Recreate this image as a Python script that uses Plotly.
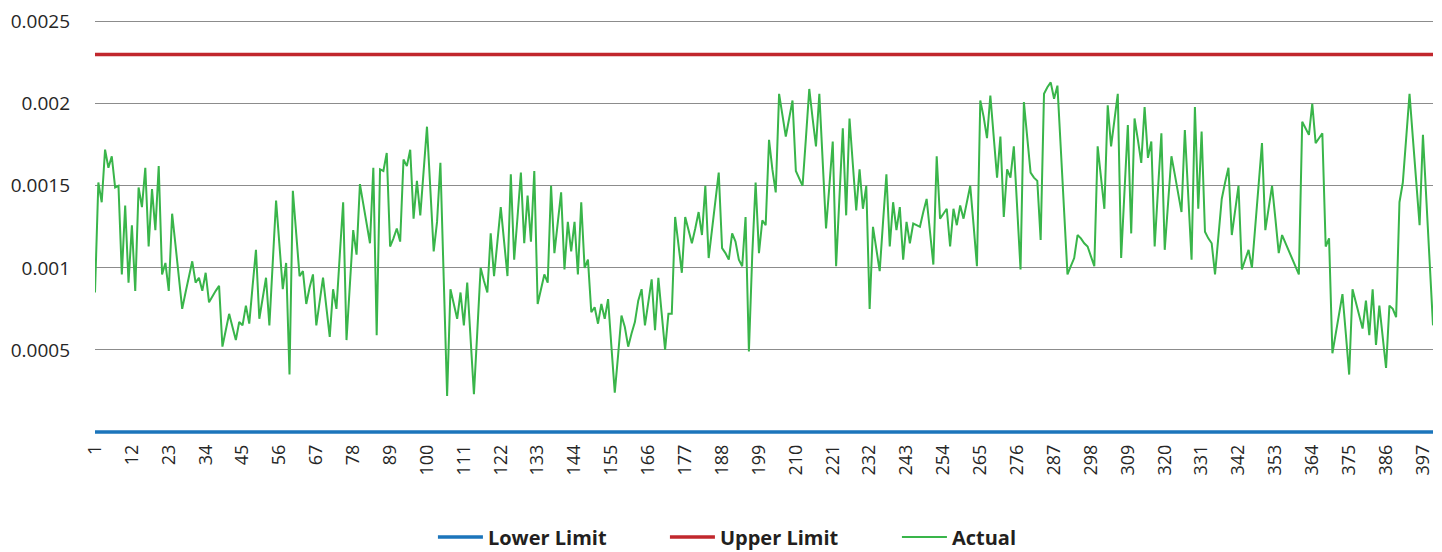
import plotly.graph_objects as go

# ---------------- data ----------------
lower_limit = 0.0
upper_limit = 0.0023

actual = [
    0.00085, 0.00152, 0.00140, 0.00172, 0.00161, 0.00168, 0.00149, 0.00150, 0.00096, 0.00138,
    0.00091, 0.00126, 0.00086, 0.00149, 0.00137, 0.00161, 0.00113, 0.00148, 0.00123, 0.00162,
    0.00096, 0.00103, 0.00086, 0.00133, 0.00114, 0.00095, 0.00075, 0.00085, 0.00095, 0.00104,
    0.00091, 0.00094, 0.00086, 0.00097, 0.00079, 0.00083, 0.00086, 0.00089, 0.00052, 0.00062,
    0.00072, 0.00064, 0.00056, 0.00067, 0.00065, 0.00077, 0.00066, 0.00089, 0.00111, 0.00069,
    0.00082, 0.00094, 0.00065, 0.00103, 0.00141, 0.00114, 0.00087, 0.00103, 0.00035, 0.00147,
    0.00121, 0.00095, 0.00098, 0.00078, 0.00088, 0.00096, 0.00065, 0.00080, 0.00094, 0.00076,
    0.00058, 0.00087, 0.00075, 0.00108, 0.00140, 0.00056, 0.00089, 0.00123, 0.00108, 0.00151,
    0.00139, 0.00127, 0.00115, 0.00161, 0.00059, 0.00160, 0.00159, 0.00170, 0.00113, 0.00118,
    0.00124, 0.00116, 0.00166, 0.00162, 0.00172, 0.00130, 0.00153, 0.00132, 0.00159, 0.00186,
    0.00148, 0.00110, 0.00128, 0.00164, 0.00093, 0.00022, 0.00087, 0.00078, 0.00069, 0.00085,
    0.00065, 0.00091, 0.00057, 0.00023, 0.00061, 0.00100, 0.00092, 0.00085, 0.00121, 0.00095,
    0.00116, 0.00137, 0.00116, 0.00095, 0.00157, 0.00105, 0.00131, 0.00158, 0.00115, 0.00144,
    0.00116, 0.00159, 0.00078, 0.00087, 0.00096, 0.00091, 0.00150, 0.00109, 0.00127, 0.00146,
    0.00099, 0.00128, 0.00110, 0.00128, 0.00096, 0.00140, 0.00100, 0.00105, 0.00073, 0.00076,
    0.00066, 0.00078, 0.00069, 0.00081, 0.00052, 0.00024, 0.00047, 0.00071, 0.00064, 0.00052,
    0.00060, 0.00067, 0.00080, 0.00087, 0.00065, 0.00079, 0.00093, 0.00062, 0.00094, 0.00072,
    0.00050, 0.00072, 0.00072, 0.00131, 0.00114, 0.00097, 0.00131, 0.00123, 0.00115, 0.00124,
    0.00134, 0.00120, 0.00150, 0.00106, 0.00123, 0.00140, 0.00158, 0.00112, 0.00109, 0.00105,
    0.00121, 0.00116, 0.00105, 0.00101, 0.00131, 0.00049, 0.00108, 0.00152, 0.00109, 0.00129,
    0.00126, 0.00178, 0.00160, 0.00146, 0.00206, 0.00193, 0.00180, 0.00191, 0.00202, 0.00159,
    0.00154, 0.00150, 0.00179, 0.00209, 0.00191, 0.00174, 0.00206, 0.00165, 0.00124, 0.00150,
    0.00177, 0.00101, 0.00143, 0.00185, 0.00132, 0.00191, 0.00163, 0.00135, 0.00160, 0.00136,
    0.00150, 0.00075, 0.00125, 0.00112, 0.00098, 0.00128, 0.00157, 0.00113, 0.00140, 0.00123,
    0.00137, 0.00105, 0.00128, 0.00115, 0.00127, 0.00126, 0.00125, 0.00134, 0.00142, 0.00122,
    0.00102, 0.00168, 0.00130, 0.00133, 0.00136, 0.00113, 0.00136, 0.00126, 0.00138, 0.00130,
    0.00140, 0.00150, 0.00126, 0.00101, 0.00202, 0.00192, 0.00179, 0.00205, 0.00180, 0.00155,
    0.00180, 0.00131, 0.00160, 0.00155, 0.00174, 0.00137, 0.00099, 0.00201, 0.00180, 0.00158,
    0.00155, 0.00153, 0.00117, 0.00206, 0.00210, 0.00213, 0.00203, 0.00211, 0.00173, 0.00135,
    0.00096, 0.00101, 0.00106, 0.00120, 0.00118, 0.00115, 0.00113, 0.00107, 0.00101, 0.00174,
    0.00155, 0.00136, 0.00199, 0.00174, 0.00190, 0.00206, 0.00106, 0.00146, 0.00187, 0.00121,
    0.00191, 0.00178, 0.00164, 0.00198, 0.00167, 0.00177, 0.00113, 0.00148, 0.00182, 0.00111,
    0.00140, 0.00168, 0.00157, 0.00145, 0.00134, 0.00184, 0.00145, 0.00105, 0.00198, 0.00136,
    0.00183, 0.00122, 0.00118, 0.00115, 0.00096, 0.00119, 0.00142, 0.00152, 0.00161, 0.00120,
    0.00135, 0.00150, 0.00099, 0.00105, 0.00111, 0.00100, 0.00125, 0.00150, 0.00176, 0.00123,
    0.00136, 0.00150, 0.00130, 0.00109, 0.00120, 0.00115, 0.00110, 0.00106, 0.00101, 0.00096,
    0.00189, 0.00185, 0.00181, 0.00200, 0.00176, 0.00179, 0.00182, 0.00113, 0.00118, 0.00048,
    0.00060, 0.00072, 0.00084, 0.00060, 0.00035, 0.00087, 0.00079, 0.00071, 0.00063, 0.00080,
    0.00059, 0.00087, 0.00053, 0.00077, 0.00058, 0.00039, 0.00077, 0.00075, 0.00070, 0.00140,
    0.00152, 0.00179, 0.00206, 0.00179, 0.00153, 0.00126, 0.00181, 0.00142, 0.00103, 0.00065,
]

categories = list(range(1, len(actual) + 1))
lower_series = [lower_limit] * len(categories)
upper_series = [upper_limit] * len(categories)

x_tick_vals = list(range(1, len(actual) + 1, 11))
x_tick_text = [str(v) for v in x_tick_vals]
y_tick_vals = [0.0005, 0.001, 0.0015, 0.002, 0.0025]
y_tick_text = ["0.0005", "0.001", "0.0015", "0.002", "0.0025"]

# ---------------- figure ----------------
fig = go.Figure()
fig.add_trace(go.Scatter(x=categories, y=lower_series, mode="lines", name="Lower Limit",
                         line=dict(color="#1b75bb", width=3.5)))
fig.add_trace(go.Scatter(x=categories, y=upper_series, mode="lines", name="Upper Limit",
                         line=dict(color="#c1272d", width=3.5)))
fig.add_trace(go.Scatter(x=categories, y=actual, mode="lines", name="Actual",
                         line=dict(color="#39b54a", width=2)))

font_family = "Open Sans, Liberation Sans, sans-serif"

# the page body adds an 8px offset, so the figure is sized to fit inside the window
fig.update_layout(
    width=1434, height=544,
    margin=dict(l=87, r=9, t=12, b=118, autoexpand=False),
    paper_bgcolor="white", plot_bgcolor="white",
    font=dict(family=font_family, color="#262626"),
    showlegend=True,
    legend=dict(orientation="h", x=0.539, xanchor="center", xref="container",
                y=0.0275, yanchor="middle", yref="container",
                font=dict(size=20, weight="bold", color="#231f20"),
                itemwidth=45, entrywidth=172, entrywidthmode="pixels",
                traceorder="normal"),
    xaxis=dict(range=[1, len(actual)], tickmode="array", tickvals=x_tick_vals,
               ticktext=x_tick_text, tickangle=-90, showgrid=False, zeroline=False,
               showline=False, ticks="", ticklabelstandoff=6, automargin=False,
               tickfont=dict(size=18, color="#262626")),
    yaxis=dict(range=[-0.000012, 0.00251], tickmode="array", tickvals=y_tick_vals,
               ticktext=y_tick_text, showgrid=True, gridcolor="#8c8c8c", gridwidth=1,
               zeroline=False, showline=False, ticks="", ticklabelstandoff=24,
               automargin=False, tickfont=dict(size=19, color="#262626")),
)

fig.write_html("out.html")
